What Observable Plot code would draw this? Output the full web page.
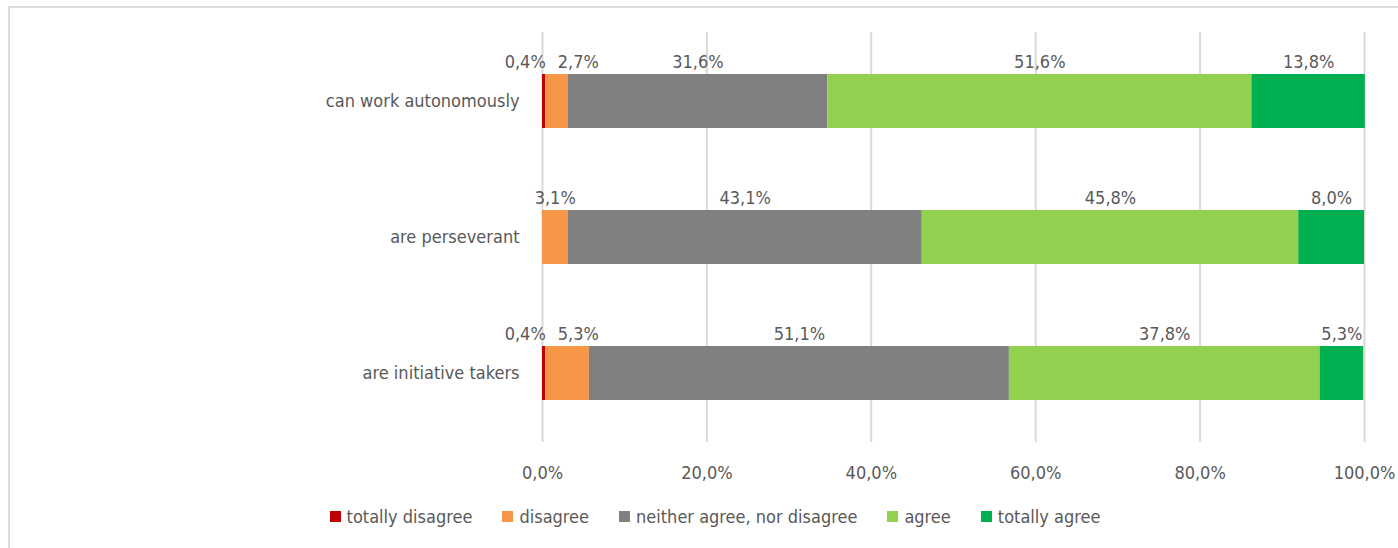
<!DOCTYPE html>
<html>
<head>
<meta charset="utf-8">
<script src="https://cdn.jsdelivr.net/npm/d3@7"></script>
<script src="https://cdn.jsdelivr.net/npm/@observablehq/plot@0.6"></script>
<style>
  html, body { margin: 0; padding: 0; background: #fff; }
  body { width: 1398px; height: 548px; overflow: hidden; position: relative;
         font-family: "Liberation Sans Narrow", "DejaVu Sans Condensed", "Roboto", sans-serif; }
  #frame { position: absolute; left: 8px; top: 6px; width: 1400px; height: 560px;
           border-left: 2px solid #dcdcdc; border-top: 2px solid #dcdcdc; box-sizing: border-box; }
  #chart { position: absolute; left: 0; top: 0; }
  #legend { position: absolute; left: 16px; top: 506px; width: 1398px; display: flex; justify-content: center;
            font-size: 18px; color: #595959; }
  .item { display: flex; align-items: center; margin: 0 15px; }
  .sw { width: 11px; height: 11px; margin-right: 6px; display: inline-block; }
</style>
</head>
<body>
<div id="frame"></div>
<div id="chart"></div>
<div id="legend"></div>
<script>
const categories = ["can work autonomously", "are perseverant", "are initiative takers"];
const seriesNames = ["totally disagree", "disagree", "neither agree, nor disagree", "agree", "totally agree"];
const seriesColors = ["#C00000", "#F79646", "#808080", "#92D050", "#00B050"];
const totallyDisagree = [0.4, 0, 0.4];
const disagree = [2.7, 3.1, 5.3];
const neither = [31.6, 43.1, 51.1];
const agree = [51.6, 45.8, 37.8];
const totallyAgree = [13.8, 8.0, 5.3];
const xTicks = [0, 20, 40, 60, 80, 100];

const seriesValues = [totallyDisagree, disagree, neither, agree, totallyAgree];
const fmt = v => v.toFixed(1).replace(".", ",") + "%";

const rows = [];
categories.forEach((cat, ci) => {
  let acc = 0;
  seriesValues.forEach((vals, si) => {
    const v = vals[ci];
    rows.push({cat, series: seriesNames[si], si, value: v, x1: acc, x2: acc + v, mid: acc + v / 2,
               hasTD: totallyDisagree[ci] > 0});
    acc += v;
  });
});
const bars = rows.filter(d => d.value > 0);
const centered = bars.filter(d => !(d.si === 0) && !(d.si === 1 && d.hasTD));
const tdLabels = bars.filter(d => d.si === 0);
const dLabels = bars.filter(d => d.si === 1 && d.hasTD);

const textColor = "#595959";
const font = `"Liberation Sans Narrow", "DejaVu Sans Condensed", "Roboto", sans-serif`;
const fs = 18;

const plot = Plot.plot({
  width: 1398,
  height: 500,
  marginLeft: 542,
  marginRight: 34,
  marginTop: 32,
  marginBottom: 58,
  style: {fontFamily: font, fontSize: fs + "px", color: textColor, background: "transparent", overflow: "visible"},
  x: {domain: [0, 100], ticks: xTicks, tickFormat: fmt, label: null},
  y: {domain: categories, label: null, paddingInner: 0.6, paddingOuter: 0.3, align: 0.5},
  color: {domain: seriesNames, range: seriesColors},
  marks: [
    Plot.ruleX(xTicks, {x: d => d, stroke: "#d9d9d9", strokeWidth: 2}),
    Plot.barX(bars, {x1: "x1", x2: "x2", y: "cat", fill: "series"}),
    Plot.axisX({ticks: xTicks, tickFormat: fmt, tickSize: 0, tickPadding: 24, fill: textColor, fontSize: fs, label: null}),
    Plot.axisY({tickSize: 0, tickPadding: 23, fill: textColor, fontSize: fs, label: null}),
    Plot.text(centered, {x: "mid", y: "cat", text: d => fmt(d.value), dy: -34, lineAnchor: "bottom", fill: textColor, fontSize: fs}),
    Plot.text(tdLabels, {x: "x2", y: "cat", text: d => fmt(d.value), dy: -34, dx: 0, textAnchor: "end", lineAnchor: "bottom", fill: textColor, fontSize: fs}),
    Plot.text(dLabels, {x: "x1", y: "cat", text: d => fmt(d.value), dy: -34, dx: 12, textAnchor: "start", lineAnchor: "bottom", fill: textColor, fontSize: fs})
  ]
});
document.getElementById("chart").appendChild(plot);

const legend = document.getElementById("legend");
seriesNames.forEach((name, i) => {
  const item = document.createElement("div");
  item.className = "item";
  const sw = document.createElement("span");
  sw.className = "sw";
  sw.style.background = seriesColors[i];
  const lab = document.createElement("span");
  lab.textContent = name;
  item.appendChild(sw);
  item.appendChild(lab);
  legend.appendChild(item);
});
</script>
</body>
</html>
